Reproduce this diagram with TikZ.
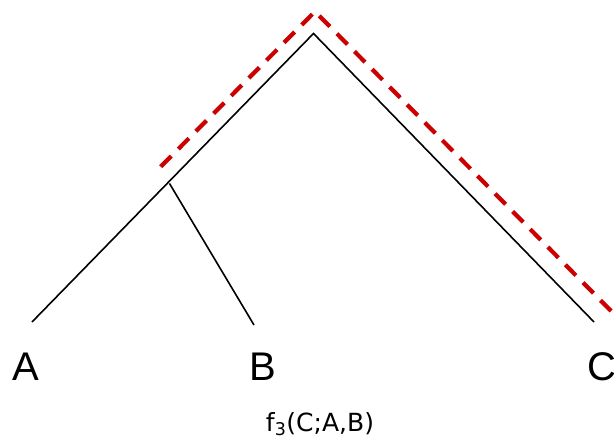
\documentclass[tikz,border=0pt]{standalone}
\usepackage{fontspec}
\setmainfont{Liberation Sans}
\newfontfamily\djv{DejaVu Sans}
\definecolor{pathred}{RGB}{204,0,0}
\begin{document}
\begin{tikzpicture}[x=1pt,y=-1pt,
  branch/.style={line width=1.6pt,black},
  redpath/.style={line width=4.2pt,pathred,dash pattern=on 15pt off 10pt},
  leaflabel/.style={anchor=base,inner sep=0pt,font=\fontsize{40}{40}\selectfont},
  caption/.style={anchor=base,inner sep=0pt,font=\djv\fontsize{25}{25}\selectfont}]
\useasboundingbox (0,0) rectangle (614,441);
\begin{scope}
\clip (0,0) rectangle (614,441);
\coordinate (root) at (313.5,33.5);
\coordinate (inner) at (169.5,183.5);
\coordinate (a) at (32,322);
\coordinate (b) at (254,325);
\coordinate (c) at (594,322);
\draw[branch] (a) -- (root) -- (c);
\draw[branch] (inner) -- (b);
\coordinate (r1) at (160.7,166.7);
\coordinate (r2) at (315,11.5);
\coordinate (r3) at (618,318);
\draw[redpath] (r1) -- (r2) -- (r3);
\node[leaflabel] (la) at (26,380) {A};
\node[leaflabel] (lb) at (263,380) {B};
\node[leaflabel] (lc) at (602,380) {C};
\node[caption] (cap) at (320,431) {f\textsubscript{3}(C;A,B)};
\end{scope}
\end{tikzpicture}
\end{document}
